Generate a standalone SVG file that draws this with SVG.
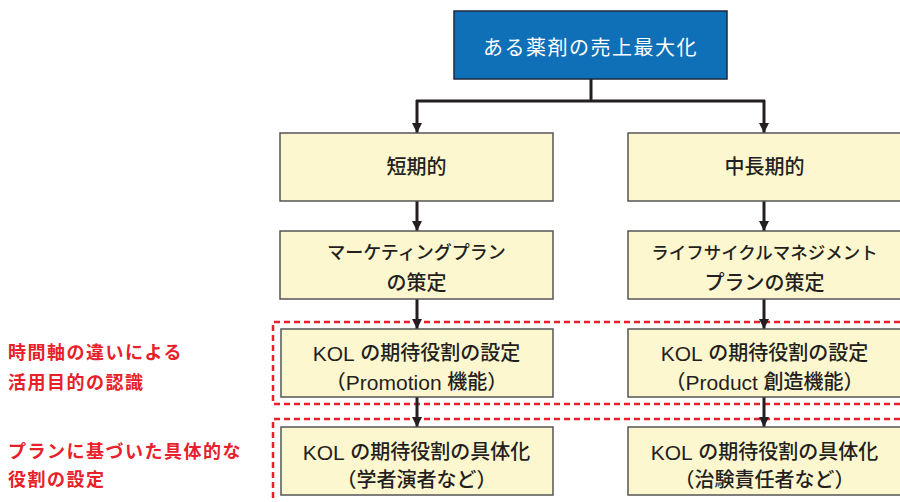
<svg xmlns="http://www.w3.org/2000/svg" width="900" height="502" viewBox="0 0 900 502">
<defs>
<marker id="arr" viewBox="0 0 10 10" refX="10" refY="5" markerWidth="10" markerHeight="10" markerUnits="userSpaceOnUse" orient="auto">
<path d="M0,0 L10,5 L0,10 z" fill="#231f20"/>
</marker>
<style>
.box{fill:#fdf7cf;stroke:#555;stroke-width:1.5}
.top{fill:#0f70b7;stroke:#1e2a3a;stroke-width:1.5}
.t{font-family:"Liberation Sans","Noto Sans CJK JP",sans-serif;font-size:20px;fill:#231f20;text-anchor:middle;dominant-baseline:central;font-weight:500}
.lat{font-size:21px}
.tw{font-family:"Noto Sans CJK JP",sans-serif;font-size:20px;fill:#fff;text-anchor:middle;dominant-baseline:central;letter-spacing:1.5px}
.r{font-family:"Noto Sans CJK JP",sans-serif;font-size:18px;fill:#e8202a;font-weight:700;letter-spacing:1.5px;dominant-baseline:central}
.ln{stroke:#231f20;stroke-width:3;fill:none}
.dash{fill:none;stroke:#e8202a;stroke-width:2.5;stroke-dasharray:6 4}
</style>
</defs>
<rect width="900" height="502" fill="#fff"/>
<g id="zones">
<path class="dash" d="M910,322 H273 V404 H910"/>
<path class="dash" d="M910,419 H273 V510"/>
</g>
<g id="connectors">
<path class="ln" d="M591,79 V101 M416,101 H765"/>
<path class="ln" d="M417,100 V133" marker-end="url(#arr)"/>
<path class="ln" d="M764,100 V133" marker-end="url(#arr)"/>
<path class="ln" d="M417,201 V231" marker-end="url(#arr)"/>
<path class="ln" d="M764,201 V231" marker-end="url(#arr)"/>
<path class="ln" d="M417,299 V329" marker-end="url(#arr)"/>
<path class="ln" d="M764,299 V329" marker-end="url(#arr)"/>
<path class="ln" d="M417,397 V427" marker-end="url(#arr)"/>
<path class="ln" d="M764,397 V427" marker-end="url(#arr)"/>
</g>
<g id="n-top">
<rect class="top" x="454" y="11" width="273" height="68"/>
<text class="tw" x="590.5" y="46">ある薬剤の売上最大化</text>
</g>
<g id="n-short">
<rect class="box" x="280" y="133" width="273" height="68"/>
<text class="t" x="416.5" y="167">短期的</text>
</g>
<g id="n-long">
<rect class="box" x="628" y="133" width="273" height="68"/>
<text class="t" x="764.5" y="167">中長期的</text>
</g>
<g id="n-mkt">
<rect class="box" x="280" y="231" width="273" height="68"/>
<text class="t" x="416.5" y="253" style="font-size:18px">マーケティングプラン</text>
<text class="t" x="416.5" y="283">の策定</text>
</g>
<g id="n-lcm">
<rect class="box" x="628" y="231" width="273" height="68"/>
<text class="t" x="764.5" y="253" style="font-size:17.5px">ライフサイクルマネジメント</text>
<text class="t" x="764.5" y="283">プランの策定</text>
</g>
<g id="n-kol1">
<rect class="box" x="281" y="329" width="272" height="68"/>
<text class="t" x="416.5" y="353"><tspan class="lat">KOL</tspan> の期待役割の設定</text>
<text class="t" x="416.5" y="382">（<tspan class="lat">Promotion</tspan> 機能）</text>
</g>
<g id="n-kol2">
<rect class="box" x="628" y="329" width="273" height="68"/>
<text class="t" x="764.5" y="353"><tspan class="lat">KOL</tspan> の期待役割の設定</text>
<text class="t" x="764.5" y="382">（<tspan class="lat">Product</tspan> 創造機能）</text>
</g>
<g id="n-kol3">
<rect class="box" x="281" y="427" width="272" height="68"/>
<text class="t" x="416.5" y="452"><tspan class="lat">KOL</tspan> の期待役割の具体化</text>
<text class="t" x="416.5" y="480">（学者演者など）</text>
</g>
<g id="n-kol4">
<rect class="box" x="628" y="427" width="273" height="68"/>
<text class="t" x="764.5" y="452"><tspan class="lat">KOL</tspan> の期待役割の具体化</text>
<text class="t" x="764.5" y="480">（治験責任者など）</text>
</g>
<g id="labels">
<text class="r" x="8" y="351">時間軸の違いによる</text>
<text class="r" x="8" y="381">活用目的の認識</text>
<text class="r" x="8" y="450">プランに基づいた具体的な</text>
<text class="r" x="8" y="478">役割の設定</text>
</g>
</svg>
